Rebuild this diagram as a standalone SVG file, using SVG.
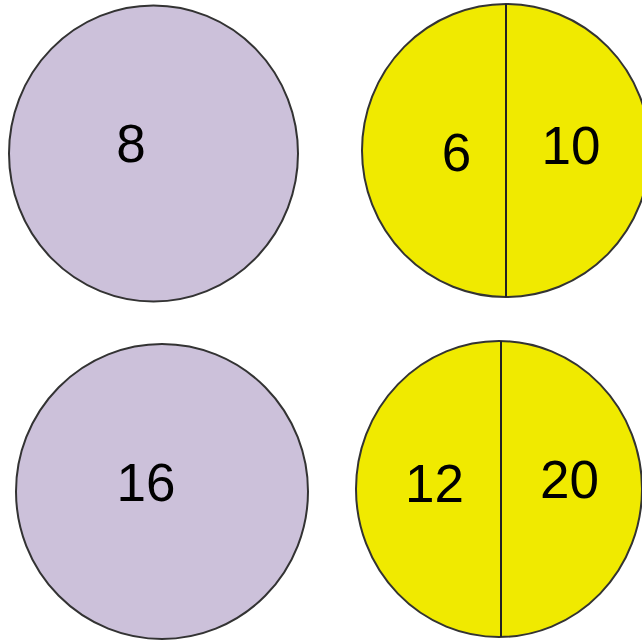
<svg xmlns="http://www.w3.org/2000/svg" width="642" height="644" viewBox="0 0 642 644">
<style>
.p{fill:#ccc1da;stroke:#333;stroke-width:2}
.y{fill:#f0ea00;stroke:#333;stroke-width:2}
.d{stroke:#222;stroke-width:2}
text{font-family:"Liberation Sans",Arial,sans-serif;font-size:53px;fill:#000;text-anchor:middle}
</style>
<rect width="642" height="644" fill="#fff"/>
<g id="c8">
<ellipse class="p" cx="153.5" cy="153.5" rx="144.5" ry="148"/>
<text x="131" y="162">8</text>
</g>
<g id="c6-10">
<ellipse class="y" cx="506" cy="150.5" rx="144" ry="146.5"/>
<line class="d" x1="506" y1="4" x2="506" y2="297"/>
<text x="456.5" y="171">6</text>
<text x="571" y="164">10</text>
</g>
<g id="c16">
<ellipse class="p" cx="162" cy="491.5" rx="146" ry="147.5"/>
<text x="146" y="501">16</text>
</g>
<g id="c12-20">
<ellipse class="y" cx="499" cy="489" rx="143" ry="148"/>
<line class="d" x1="501" y1="341" x2="501" y2="637"/>
<text x="434.5" y="502">12</text>
<text x="569.5" y="498">20</text>
</g>
</svg>
